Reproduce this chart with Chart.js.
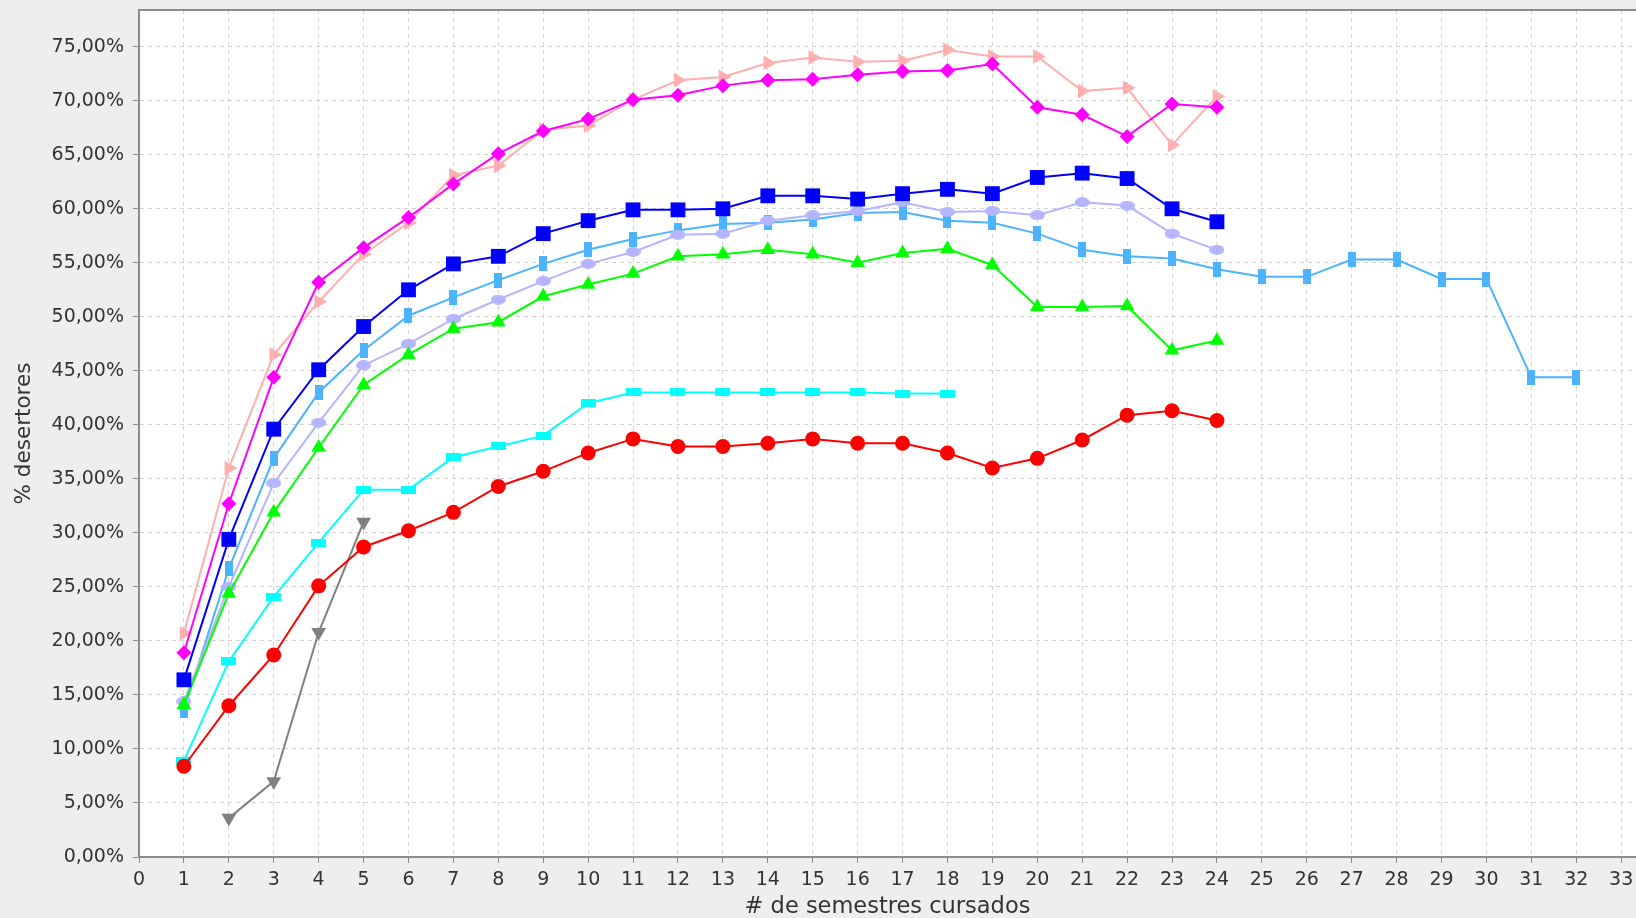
<!DOCTYPE html>
<html>
<head>
<meta charset="utf-8">
<script src="https://cdn.jsdelivr.net/npm/chart.js@4/dist/chart.umd.min.js"></script>
<style>
  html, body { margin: 0; padding: 0; background: #EEEEEE; }
  #wrap { width: 1636px; height: 918px; }
</style>
</head>
<body>
<div id="wrap"><canvas id="c" width="1636" height="918"></canvas></div>
<script>
// ---- data ----
const semesters = [1,2,3,4,5,6,7,8,9,10,11,12,13,14,15,16,17,18,19,20,21,22,23,24,25,26,27,28,29,30,31,32];
const xTickValues = [0,1,2,3,4,5,6,7,8,9,10,11,12,13,14,15,16,17,18,19,20,21,22,23,24,25,26,27,28,29,30,31,32,33];
const yTickValues = [0,5,10,15,20,25,30,35,40,45,50,55,60,65,70,75];

const seriesBlue     = [16.4, 29.4, 39.6, 45.1, 49.1, 52.5, 54.9, 55.6, 57.7, 58.9, 59.9, 59.9, 60.0, 61.2, 61.2, 60.9, 61.4, 61.8, 61.4, 62.9, 63.3, 62.8, 60.0, 58.8];
const seriesRed      = [8.4, 14.0, 18.7, 25.1, 28.7, 30.2, 31.9, 34.3, 35.7, 37.4, 38.7, 38.0, 38.0, 38.3, 38.7, 38.3, 38.3, 37.4, 36.0, 36.9, 38.6, 40.9, 41.3, 40.4];
const seriesGreen    = [14.1, 24.4, 31.9, 37.9, 43.7, 46.5, 48.9, 49.5, 51.9, 53.0, 54.0, 55.6, 55.8, 56.2, 55.8, 55.0, 55.9, 56.3, 54.8, 50.9, 50.9, 51.0, 46.9, 47.8];
const seriesMagenta  = [18.9, 32.7, 44.4, 53.2, 56.4, 59.2, 62.3, 65.1, 67.2, 68.3, 70.1, 70.5, 71.4, 71.9, 72.0, 72.4, 72.7, 72.8, 73.4, 69.4, 68.7, 66.7, 69.7, 69.4];
const seriesCyan     = [8.9, 18.1, 24.1, 29.1, 34.0, 34.0, 37.0, 38.0, 39.0, 42.0, 43.0, 43.0, 43.0, 43.0, 43.0, 43.0, 42.9, 42.9];
const seriesGray     = [null, 3.6, 7.0, 20.8, 31.0];
const seriesLavender = [14.4, 25.0, 34.6, 40.2, 45.5, 47.5, 49.8, 51.6, 53.3, 54.9, 56.0, 57.6, 57.7, 58.9, 59.4, 59.8, 60.6, 59.7, 59.8, 59.4, 60.6, 60.3, 57.7, 56.2];
const seriesPink     = [20.7, 36.0, 46.5, 51.4, 55.8, 58.7, 63.1, 64.0, 67.3, 67.7, 70.1, 71.9, 72.2, 73.5, 74.0, 73.6, 73.7, 74.7, 74.1, 74.1, 70.9, 71.2, 65.9, 70.4];
const seriesSky      = [13.6, 26.7, 36.9, 43.0, 46.9, 50.1, 51.8, 53.4, 54.9, 56.2, 57.2, 58.0, 58.6, 58.7, 59.0, 59.6, 59.7, 58.9, 58.7, 57.7, 56.2, 55.6, 55.4, 54.4, 53.7, 53.7, 55.3, 55.3, 53.5, 53.5, 44.4, 44.4];

// ---- helpers ----
function toPoints(values) {
  const pts = [];
  values.forEach((v, i) => { if (v !== null) pts.push({ x: semesters[i], y: v }); });
  return pts;
}
function shapeCanvas(w, h, color, kind) {
  const c = document.createElement('canvas');
  c.width = w; c.height = h;
  const g = c.getContext('2d');
  g.fillStyle = color;
  if (kind === 'ellipse') {
    g.beginPath();
    g.ellipse(w / 2, h / 2, w / 2, h / 2, 0, 0, Math.PI * 2);
    g.fill();
  } else {
    g.fillRect(0, 0, w, h);
  }
  return c;
}

const cyanRect = shapeCanvas(15, 8, '#00FFFF', 'rect');
const skyRect = shapeCanvas(8, 15, '#4CB4FF', 'rect');
const lavEllipse = shapeCanvas(15, 10, '#B4B4FF', 'ellipse');

function ds(label, values, color, style, radius, rotation) {
  return {
    label: label,
    data: toPoints(values),
    borderColor: color,
    backgroundColor: color,
    borderWidth: 2,
    pointStyle: style,
    pointRadius: radius,
    pointHoverRadius: radius,
    pointRotation: rotation || 0,
    pointBorderWidth: 0,
    pointBackgroundColor: color,
    pointBorderColor: color,
    tension: 0,
    fill: false
  };
}

const datasets = [
  ds('s1', seriesBlue, '#0000FF', 'rect', 10.5),
  ds('s2', seriesRed, '#FF0000', 'circle', 7.5),
  ds('s3', seriesGreen, '#00FF00', 'triangle', 8.5),
  ds('s4', seriesMagenta, '#FF00FF', 'rectRot', 7.5),
  ds('s5', seriesCyan, '#00FFFF', cyanRect, 7),
  ds('s6', seriesGray, '#808080', 'triangle', 8.5, 180),
  ds('s7', seriesLavender, '#B4B4FF', lavEllipse, 7),
  ds('s8', seriesPink, '#FFAFAF', 'triangle', 8.5, 90),
  ds('s9', seriesSky, '#4CB4FF', skyRect, 7)
];

const bgPlugin = {
  id: 'bg',
  beforeDraw(chart) {
    const ctx = chart.ctx, a = chart.chartArea;
    ctx.save();
    ctx.fillStyle = '#EEEEEE';
    ctx.fillRect(0, 0, chart.width, chart.height);
    ctx.fillStyle = '#FFFFFF';
    ctx.fillRect(a.left, a.top, a.right - a.left, a.bottom - a.top);
    ctx.restore();
  },
  afterDraw(chart) {
    const ctx = chart.ctx, a = chart.chartArea;
    ctx.save();
    ctx.strokeStyle = '#8C8C8C';
    ctx.lineWidth = 2;
    ctx.beginPath();
    ctx.moveTo(a.left, a.top);
    ctx.lineTo(a.right, a.top);
    ctx.stroke();
    ctx.restore();
  }
};

const tickFont = { family: 'DejaVu Sans', size: 19 };
const gridOpts = {
  color: '#D2D2D2',
  lineWidth: 1,
  drawTicks: true,
  tickLength: 6,
  tickColor: '#8C8C8C',
  tickWidth: 1,
  tickBorderDash: []
};
const borderOpts = { display: true, color: '#8C8C8C', width: 2, dash: [4, 4] };

new Chart(document.getElementById('c'), {
  type: 'line',
  data: { datasets: datasets },
  plugins: [bgPlugin],
  options: {
    responsive: false,
    animation: false,
    events: [],
    layout: { autoPadding: false, padding: { top: 10, left: 0, right: 0, bottom: 0 } },
    plugins: { legend: { display: false }, tooltip: { enabled: false } },
    scales: {
      x: {
        type: 'linear',
        min: 0,
        max: 33.33,
        grid: gridOpts,
        border: borderOpts,
        afterBuildTicks(scale) { scale.ticks = xTickValues.map(v => ({ value: v })); },
        afterFit(scale) { scale.height = 61; scale.paddingLeft = 0; scale.paddingRight = 0; },
        ticks: {
          font: tickFont,
          color: '#333333',
          padding: 6,
          maxRotation: 0,
          autoSkip: false,
          callback: (v) => String(v)
        },
        title: {
          display: true,
          text: '# de semestres cursados',
          font: { family: 'DejaVu Sans', size: 22.5 },
          color: '#333333',
          padding: { top: 0, bottom: -3 }
        }
      },
      y: {
        type: 'linear',
        min: 0,
        max: 78.4,
        grid: gridOpts,
        border: borderOpts,
        afterBuildTicks(scale) { scale.ticks = yTickValues.map(v => ({ value: v })); },
        afterFit(scale) { scale.width = 139; scale.paddingTop = 0; scale.paddingBottom = 0; },
        ticks: {
          font: tickFont,
          color: '#333333',
          padding: 9,
          autoSkip: false,
          callback: (v) => v.toFixed(2).replace('.', ',') + '%'
        },
        title: {
          display: true,
          text: '% desertores',
          font: { family: 'DejaVu Sans', size: 21.5 },
          color: '#333333',
          padding: { top: 12, bottom: 0 }
        }
      }
    }
  }
});
</script>
</body>
</html>
